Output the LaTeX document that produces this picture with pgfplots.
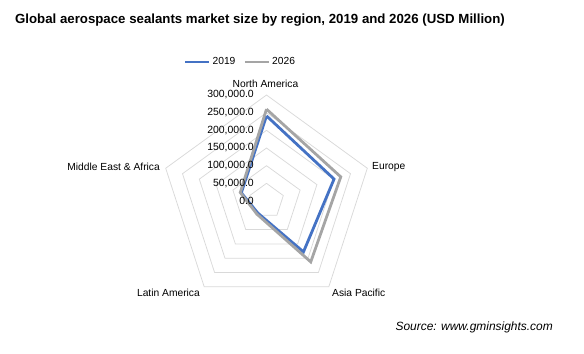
\documentclass[border=0pt]{standalone}
\usepackage{pgfplots}
\pgfplotsset{compat=1.18}
\usepgfplotslibrary{polar}
\usepackage{fontspec}
\setmainfont{Liberation Sans}
\definecolor{c2019}{HTML}{4472C4}
\definecolor{c2026}{HTML}{A5A5A5}
\definecolor{gridc}{HTML}{D9D9D9}
\begin{document}
\begin{tikzpicture}[x=1bp,y=1bp]
\path[use as bounding box] (0,0) rectangle (584,-353);
\begin{polaraxis}[
  at={(266.5bp,-201bp)}, anchor=center,
  scale only axis, width=212bp, height=212bp,
  ymin=0, ymax=300000, xmin=0, xmax=360,
  hide axis, clip=false,
  legend columns=2,
  legend style={draw=none, fill=none, font=\fontsize{10.3}{12}\selectfont,
    at={(0.377,1.156)}, anchor=center, inner sep=0pt,
    /tikz/every even column/.append style={column sep=6bp}},
  legend image code/.code={\draw[#1] (0bp,0bp) -- (24bp,0bp);},
]
% grid pentagons
\addplot[gridc, line width=0.75bp, forget plot] coordinates {(90,50000) (18,50000) (306,50000) (234,50000) (162,50000) (90,50000)};
\addplot[gridc, line width=0.75bp, forget plot] coordinates {(90,100000) (18,100000) (306,100000) (234,100000) (162,100000) (90,100000)};
\addplot[gridc, line width=0.75bp, forget plot] coordinates {(90,150000) (18,150000) (306,150000) (234,150000) (162,150000) (90,150000)};
\addplot[gridc, line width=0.75bp, forget plot] coordinates {(90,200000) (18,200000) (306,200000) (234,200000) (162,200000) (90,200000)};
\addplot[gridc, line width=0.75bp, forget plot] coordinates {(90,250000) (18,250000) (306,250000) (234,250000) (162,250000) (90,250000)};
\addplot[gridc, line width=0.75bp, forget plot] coordinates {(90,300000) (18,300000) (306,300000) (234,300000) (162,300000) (90,300000)};
% data: North America, Europe, Asia Pacific, Latin America, Middle East & Africa
\addplot[c2019, line width=2.8bp, line join=miter] coordinates {(90,241000) (18,201000) (306,178000) (234,42000) (162,75000) (90,241000)};
\addlegendentry{2019}
\addplot[c2026, line width=2.8bp, line join=miter] coordinates {(90,260000) (18,221000) (306,213000) (234,46000) (162,78000) (90,260000)};
\addlegendentry{2026}
% value labels along north axis
\foreach \v/\t in {0/0.0,50000/{50,000.0},100000/{100,000.0},150000/{150,000.0},200000/{200,000.0},250000/{250,000.0},300000/{300,000.0}}{
  \edef\temp{\noexpand\node[anchor=east, inner sep=0pt, font=\noexpand\fontsize{10.5}{12}\noexpand\selectfont] at (axis cs:90,\v) [xshift=-12.5bp] {\t};}
  \temp
}
\end{polaraxis}
\node[font=\bfseries\fontsize{13.3}{15}\selectfont, inner sep=0pt] at (260,-20) {Global aerospace sealants market size by region, 2019 and 2026 (USD Million)};
\begin{scope}[every node/.style={inner sep=0pt, font=\fontsize{10.3}{12}\selectfont}]
\node at (265.5,-84) {North America};
\node[anchor=west] at (372,-167) {Europe};
\node[anchor=west] at (332,-292.5) {Asia Pacific};
\node[anchor=east] at (200,-292.5) {Latin America};
\node[anchor=east] at (160,-167) {Middle East \& Africa};
\end{scope}
\node[anchor=east, inner sep=0pt, font=\itshape\fontsize{12}{14}\selectfont] at (553,-327) {Source: www.gminsights.com};
\end{tikzpicture}
\end{document}
